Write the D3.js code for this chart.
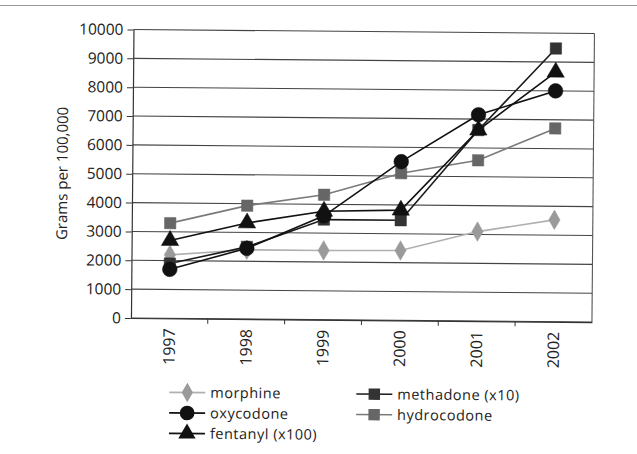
<!DOCTYPE html>
<html>
<head>
<meta charset="utf-8">
<script src="https://cdn.jsdelivr.net/npm/d3@7"></script>
<style>
  body { margin: 0; background: #fff; }
  svg { display: block; }
  text { font-family: "Open Sans", "Noto Sans", sans-serif; fill: #222; }
</style>
</head>
<body>
<div id="chart"></div>
<script>
var years = ["1997", "1998", "1999", "2000", "2001", "2002"];
var yTicks = [0, 1000, 2000, 3000, 4000, 5000, 6000, 7000, 8000, 9000, 10000];

var morphine    = [2200, 2400, 2400, 2420, 3100, 3530];
var oxycodone   = [1700, 2450, 3600, 5500, 7150, 8000];
var fentanyl    = [2700, 3330, 3760, 3820, 6620, 8650];
var methadone   = [1900, 2500, 3470, 3470, 6620, 9470];
var hydrocodone = [3300, 3930, 4330, 5100, 5570, 6700];

var names = ["morphine", "oxycodone", "fentanyl (x100)", "methadone (x10)", "hydrocodone"];

var width = 637, height = 454,
    margin = { top: 31.5, left: 132, right: 44, bottom: 134 };

var series = [
  { name: names[0], values: morphine,    line: "#b0b0b0", fill: "#9a9a9a", shape: d3.symbolDiamond, size: 110 },
  { name: names[4], values: hydrocodone, line: "#7a7a7a", fill: "#666",    shape: d3.symbolSquare,  size: 130 },
  { name: names[3], values: methadone,   line: "#1a1a1a", fill: "#333",    shape: d3.symbolSquare,  size: 130 },
  { name: names[2], values: fentanyl,    line: "#111",    fill: "#111",    shape: d3.symbolTriangle, size: 130 },
  { name: names[1], values: oxycodone,   line: "#111",    fill: "#111",    shape: d3.symbolCircle,  size: 170 }
];

var svg = d3.select("#chart").append("svg")
    .attr("width", width)
    .attr("height", height);

// scan artefact line at the very top
svg.append("line")
    .attr("x1", 0).attr("x2", width)
    .attr("y1", 5.5).attr("y2", 5.5)
    .attr("stroke", "#9a9a9a")
    .attr("stroke-width", 1);

// the scanned page is slightly tilted
var page = svg.append("g")
    .attr("transform", "rotate(0.5, 360, 200)");

var innerBottom = height - margin.bottom;

var xScale = d3.scaleBand()
    .domain(years)
    .range([margin.left, width - margin.right]);

var yScale = d3.scaleLinear()
    .domain([0, 10000])
    .range([innerBottom, margin.top]);

// grid
page.append("g")
  .selectAll("line")
  .data(yTicks)
  .enter().append("line")
    .attr("x1", margin.left)
    .attr("x2", width - margin.right)
    .attr("y1", function(d){ return yScale(d); })
    .attr("y2", function(d){ return yScale(d); })
    .attr("stroke", "#444")
    .attr("stroke-width", 1.1);

// right border
page.append("line")
    .attr("x1", width - margin.right).attr("x2", width - margin.right)
    .attr("y1", margin.top).attr("y2", innerBottom)
    .attr("stroke", "#555")
    .attr("stroke-width", 1.1);

// Y axis
var yAxisG = page.append("g")
    .attr("transform", "translate(" + margin.left + ",0)")
    .call(d3.axisLeft(yScale).tickValues(yTicks).tickFormat(d3.format("d"))
      .tickSize(6).tickSizeOuter(0).tickPadding(4));
yAxisG.select(".domain").attr("stroke", "#333").attr("stroke-width", 1.2);
yAxisG.selectAll(".tick line").attr("stroke", "#333");
yAxisG.selectAll("text")
    .style("font-size", "15.5px")
    .style("font-family", "'Open Sans', sans-serif")
    .attr("fill", "#222");

page.append("text")
    .attr("transform", "rotate(-90)")
    .attr("x", -176)
    .attr("y", 62)
    .attr("dy", "0.35em")
    .style("font-size", "15px")
    .style("text-anchor", "middle")
    .text("Grams per 100,000");

// X axis
var xAxisG = page.append("g")
    .attr("transform", "translate(0," + innerBottom + ")")
    .call(d3.axisBottom(xScale).tickSize(0).tickSizeOuter(0).tickPadding(0));
xAxisG.select(".domain").attr("stroke", "#333").attr("stroke-width", 1.2);
xAxisG.selectAll("text")
    .attr("transform", "rotate(-90)")
    .attr("x", -10)
    .attr("y", 0)
    .attr("dy", ".35em")
    .style("text-anchor", "end")
    .style("font-size", "16px")
    .style("font-family", "'Open Sans', sans-serif")
    .attr("fill", "#222");

// tick marks between categories
page.append("g")
  .selectAll("line")
  .data(years.slice(1))
  .enter().append("line")
    .attr("x1", function(d){ return xScale(d); })
    .attr("x2", function(d){ return xScale(d); })
    .attr("y1", innerBottom)
    .attr("y2", innerBottom + 5)
    .attr("stroke", "#333");

// lines and markers
var line = d3.line()
    .x(function(d, i){ return xScale(years[i]) + xScale.bandwidth() / 2; })
    .y(function(d){ return yScale(d); });

series.forEach(function(s){
  var g = page.append("g");
  g.append("path")
    .datum(s.values)
    .attr("fill", "none")
    .attr("stroke", s.line)
    .attr("stroke-width", 1.6)
    .attr("d", line);
  g.selectAll("path.pt")
    .data(s.values)
    .enter().append("path")
      .attr("class", "pt")
      .attr("transform", function(d, i){
        return "translate(" + (xScale(years[i]) + xScale.bandwidth() / 2) + "," + yScale(d) + ")";
      })
      .attr("d", d3.symbol().type(s.shape).size(s.size))
      .attr("fill", s.fill)
      .attr("stroke", s.fill)
      .attr("stroke-width", 0.5);
});

// legend
var legendItems = [
  { s: series[0], x: 171, y: 394 },
  { s: series[4], x: 171, y: 414.5 },
  { s: series[3], x: 171, y: 435 },
  { s: series[2], x: 358, y: 394 },
  { s: series[1], x: 358, y: 414.5 }
];

var lg = page.append("g")
  .selectAll("g")
  .data(legendItems)
  .enter().append("g")
    .attr("transform", function(d){ return "translate(" + d.x + "," + d.y + ")"; });

lg.append("line")
    .attr("x1", 0).attr("x2", 36)
    .attr("stroke", function(d){ return d.s.line; })
    .attr("stroke-width", 1.6);
lg.append("path")
    .attr("transform", "translate(18,0)")
    .attr("d", function(d){ return d3.symbol().type(d.s.shape).size(d.s.size)(); })
    .attr("fill", function(d){ return d.s.fill; });
lg.append("text")
    .attr("x", 41)
    .attr("dy", "0.35em")
    .style("font-size", "14.5px")
    .style("letter-spacing", "0.5px")
    .text(function(d){ return d.s.name; });
</script>
</body>
</html>
